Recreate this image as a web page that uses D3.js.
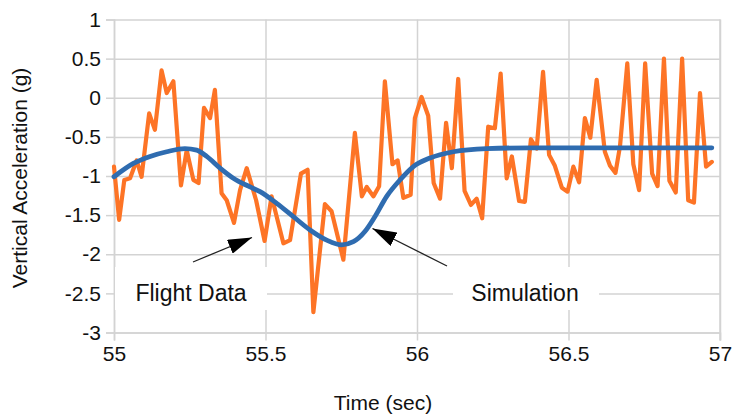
<!DOCTYPE html>
<html><head><meta charset="utf-8">
<script src="https://cdn.jsdelivr.net/npm/d3@7"></script>
<style>
html,body{margin:0;padding:0;background:#fff;}
svg{display:block;font-family:"Liberation Sans",Arial,Helvetica,sans-serif;}
</style></head>
<body><svg id="chart" width="733" height="418"></svg>
<script>
const xTicks = [55, 55.5, 56, 56.5, 57];
const yTicks = [1, 0.5, 0, -0.5, -1, -1.5, -2, -2.5, -3];

const flightTime = [55.000,55.017,55.034,55.053,55.075,55.091,55.116,55.135,55.157,55.174,55.196,55.221,55.240,55.262,55.279,55.297,55.317,55.333,55.355,55.372,55.396,55.416,55.438,55.469,55.497,55.520,55.559,55.581,55.617,55.639,55.658,55.696,55.718,55.757,55.795,55.818,55.834,55.856,55.875,55.894,55.919,55.936,55.955,55.979,55.993,56.015,56.037,56.055,56.076,56.096,56.115,56.136,56.157,56.178,56.197,56.215,56.235,56.257,56.276,56.296,56.313,56.337,56.356,56.376,56.395,56.416,56.436,56.455,56.478,56.497,56.516,56.535,56.554,56.572,56.593,56.620,56.637,56.655,56.670,56.694,56.714,56.733,56.753,56.776,56.794,56.815,56.833,56.854,56.875,56.895,56.914,56.934,56.954,56.973];
const flightAccel = [-0.88,-1.56,-1.05,-1.03,-0.80,-1.01,-0.20,-0.41,0.35,0.06,0.21,-1.12,-0.67,-1.05,-1.09,-0.13,-0.26,0.10,-1.22,-1.31,-1.60,-1.18,-0.90,-1.31,-1.83,-1.26,-1.86,-1.82,-0.97,-0.92,-2.74,-1.36,-1.45,-2.07,-0.45,-1.26,-1.14,-1.26,-1.13,0.21,-0.85,-0.80,-1.28,-1.24,-0.26,0.01,-0.23,-1.09,-1.29,-0.32,-0.90,0.24,-1.19,-1.37,-1.29,-1.54,-0.37,-0.39,0.31,-1.03,-0.75,-1.32,-1.33,-0.53,-0.65,0.33,-0.73,-0.87,-1.15,-1.20,-0.88,-1.08,-0.26,-0.51,0.23,-0.69,-0.87,-0.96,-0.62,0.44,-0.85,-1.18,0.44,-0.97,-1.13,0.50,-1.06,-1.21,0.50,-1.31,-1.34,0.06,-0.88,-0.82];

const simTime = [55.000,55.064,55.119,55.174,55.234,55.273,55.306,55.350,55.394,55.449,55.482,55.537,55.592,55.647,55.702,55.751,55.790,55.828,55.861,55.900,55.944,55.988,56.043,56.120,56.230,56.373,56.604,56.973];
const simAccel = [-1.01,-0.84,-0.75,-0.69,-0.65,-0.67,-0.75,-0.90,-1.03,-1.14,-1.20,-1.35,-1.52,-1.69,-1.82,-1.88,-1.84,-1.71,-1.52,-1.26,-1.05,-0.88,-0.77,-0.69,-0.65,-0.64,-0.64,-0.64];

const annotations = ["Flight Data", "Simulation"];

const svg = d3.select("#chart");
const x = d3.scaleLinear().domain([55, 57]).range([114, 720]);
const y = d3.scaleLinear().domain([-3, 1]).range([332.5, 19.5]);
const gridColor = "#d3d3d3";
const fmt = d => String(d);

// gridlines
svg.append("g").attr("transform", `translate(0,${y(-3)})`)
  .call(d3.axisBottom(x).tickValues(xTicks).tickSize(-(y(-3) - y(1))).tickFormat(""))
  .call(g => g.select(".domain").remove())
  .call(g => g.selectAll("line").attr("stroke", gridColor).attr("stroke-width", 1.5));
svg.append("g").attr("transform", `translate(${x(55)},0)`)
  .call(d3.axisLeft(y).tickValues(yTicks).tickSize(-(x(57) - x(55))).tickFormat(""))
  .call(g => g.select(".domain").remove())
  .call(g => g.selectAll("line").attr("stroke", gridColor).attr("stroke-width", 1.5));

// axes with outward ticks and labels
const xAxis = svg.append("g").attr("transform", `translate(0,${y(-3)})`)
  .call(d3.axisBottom(x).tickValues(xTicks).tickSize(8).tickPadding(6).tickFormat(fmt));
const yAxis = svg.append("g").attr("transform", `translate(${x(55)},0)`)
  .call(d3.axisLeft(y).tickValues(yTicks).tickSize(8).tickPadding(5).tickFormat(fmt));
[xAxis, yAxis].forEach(a => {
  a.select(".domain").attr("stroke", gridColor).attr("stroke-width", 1.5);
  a.selectAll("line").attr("stroke", gridColor).attr("stroke-width", 1.5);
  a.selectAll("text").attr("fill", "#111").style("font-size", "21px")
    .style("font-family", '"Liberation Sans",Arial,sans-serif');
});
// right border
svg.append("line").attr("x1", x(57)).attr("x2", x(57)).attr("y1", y(1)).attr("y2", y(-3) + 8)
  .attr("stroke", gridColor).attr("stroke-width", 1.5);

// label backgrounds (cover gridlines)
svg.append("rect").attr("x", x(55) + 1).attr("y", 267).attr("width", 152).attr("height", 43).attr("fill", "#fff");
svg.append("rect").attr("x", 453).attr("y", 267).attr("width", 146).attr("height", 43).attr("fill", "#fff");

// series
const line = d3.line().x(d => x(d[0])).y(d => y(d[1]));
svg.append("path").datum(d3.zip(flightTime, flightAccel))
  .attr("d", line).attr("fill", "none").attr("stroke", "#fd7426")
  .attr("stroke-width", 4.2).attr("stroke-linejoin", "round").attr("stroke-linecap", "round");
svg.append("path").datum(d3.zip(simTime, simAccel))
  .attr("d", line.curve(d3.curveMonotoneX)).attr("fill", "none").attr("stroke", "#2f6cb0")
  .attr("stroke-width", 4.8).attr("stroke-linecap", "round");

// arrows
const defs = svg.append("defs");
defs.append("marker").attr("id", "ah").attr("viewBox", "0 0 10 10").attr("refX", 10).attr("refY", 5)
  .attr("preserveAspectRatio", "none")
  .attr("markerWidth", 24).attr("markerHeight", 15).attr("markerUnits", "userSpaceOnUse").attr("orient", "auto")
  .append("path").attr("d", "M0,0 L10,5 L0,10 Z").attr("fill", "#000");
svg.append("line").attr("x1", 193).attr("y1", 262).attr("x2", 252).attr("y2", 237.5)
  .attr("stroke", "#222").attr("stroke-width", 1.3).attr("marker-end", "url(#ah)");
svg.append("line").attr("x1", 447).attr("y1", 266).attr("x2", 372.5).attr("y2", 228.5)
  .attr("stroke", "#222").attr("stroke-width", 1.3).attr("marker-end", "url(#ah)");

// annotation text
svg.append("text").attr("x", 191).attr("y", 301).attr("text-anchor", "middle")
  .style("font-size", "23px").attr("fill", "#111").text(annotations[0]);
svg.append("text").attr("x", 525).attr("y", 301).attr("text-anchor", "middle")
  .style("font-size", "23px").attr("fill", "#111").text(annotations[1]);

// axis titles
svg.append("text").attr("x", 383).attr("y", 410).attr("text-anchor", "middle")
  .style("font-size", "21px").attr("fill", "#111").text("Time (sec)");
svg.append("text").attr("transform", `translate(27,${(y(1)+y(-3))/2 + 2}) rotate(-90)`).attr("text-anchor", "middle")
  .style("font-size", "21px").attr("fill", "#111").text("Vertical Acceleration (g)");
</script></body></html>
